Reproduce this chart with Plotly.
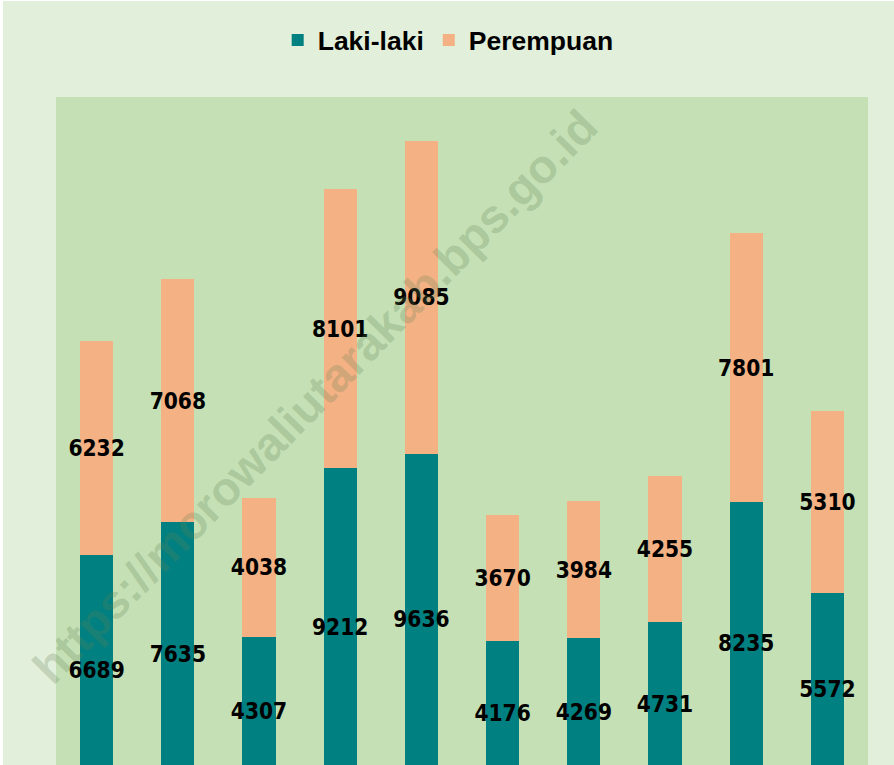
import plotly.graph_objects as go

categories = ["Mori Atas", "Lembo", "Lembo Raya", "Petasia Timur", "Petasia",
              "Petasia Barat", "Mori Utara", "Soyo Jaya", "Bungku Utara", "Mamosalato"]
laki_laki = [6689, 7635, 4307, 9212, 9636, 4176, 4269, 4731, 8235, 5572]
perempuan = [6232, 7068, 4038, 8101, 9085, 3670, 3984, 4255, 7801, 5310]

series_names = ["Laki-laki", "Perempuan"]
colors = ["#008080", "#F4B183"]
watermark = "https://morowaliutarakab.bps.go.id"

label_font = dict(family="DejaVu Sans Condensed", size=22.5, color="#000000", weight="bold")

fig = go.Figure()
for name, vals, col in zip(series_names, [laki_laki, perempuan], colors):
    fig.add_trace(go.Bar(
        x=categories, y=vals, name=name,
        marker=dict(color=col, line=dict(width=0)),
        text=[str(v) for v in vals],
        textposition="inside", insidetextanchor="middle", textangle=0,
        textfont=label_font, constraintext="none",
    ))

fig.update_layout(
    width=891, height=764,
    barmode="stack", bargap=0.59,
    paper_bgcolor="#E2EFDA", plot_bgcolor="#C5E0B4",
    margin=dict(l=53, r=26, t=96, b=0, pad=0),
    showlegend=True,
    legend=dict(orientation="h", x=0.483, xanchor="center", y=1.085, yanchor="middle",
                yref="paper",
                font=dict(family="Liberation Sans", size=26.5, color="#000000", weight="bold"),
                bgcolor="rgba(0,0,0,0)", traceorder="normal", itemclick=False),
    xaxis=dict(showticklabels=False, showgrid=False, zeroline=False, ticks="",
               showline=False),
    yaxis=dict(range=[581, 20000], showticklabels=False, showgrid=False,
               zeroline=False, ticks="", showline=False),
    font=dict(family="Liberation Sans"),
    annotations=[dict(
        text="<b>" + watermark + "</b>", xref="paper", yref="paper",
        x=0.319, y=0.551, xanchor="center", yanchor="middle",
        showarrow=False, textangle=-45.5,
        font=dict(family="Liberation Sans", size=47, color="rgba(100,130,90,0.27)"),
    )],
)

fig.write_html("out.html", post_script="document.body.style.margin='1px 0 0 3px';document.body.style.background='#ffffff';")
